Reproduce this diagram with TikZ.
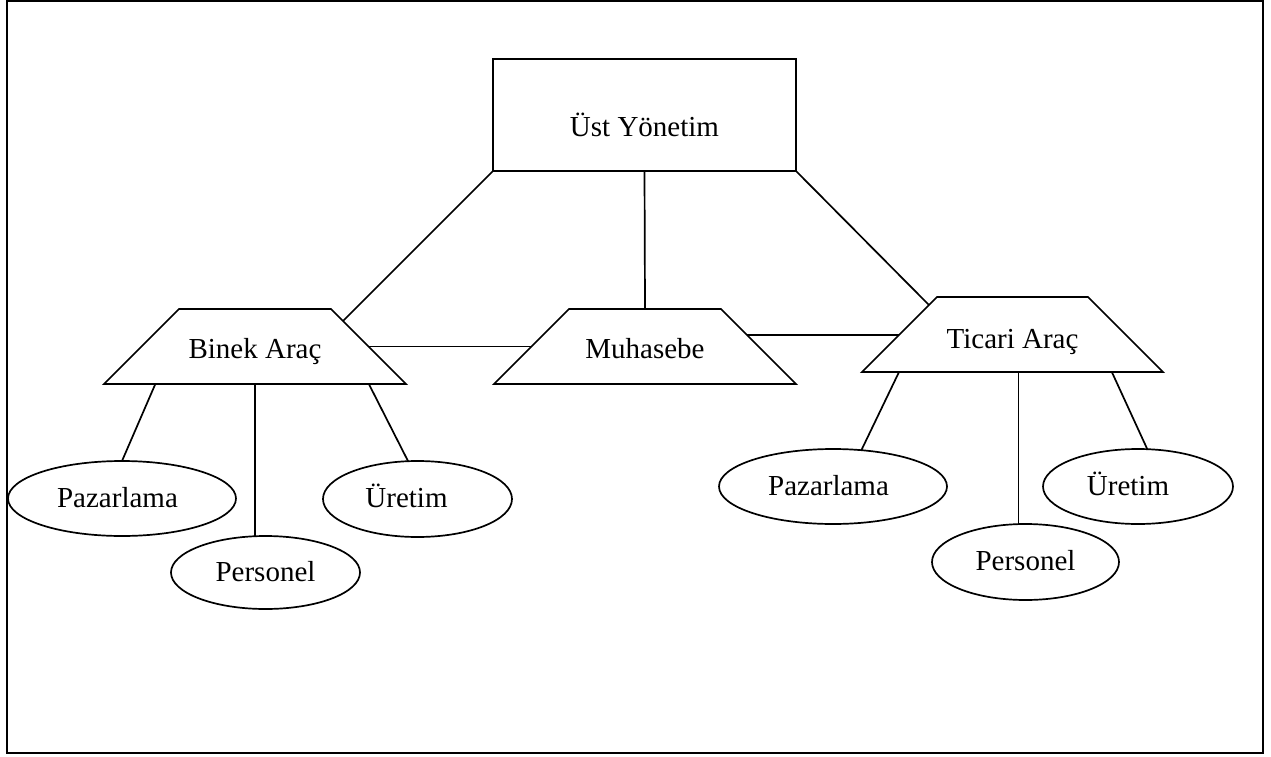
\documentclass[tikz,border=0pt]{standalone}
\usepackage{fontspec}
\setmainfont{Liberation Serif}
\usetikzlibrary{shapes.geometric,calc}
\begin{document}
\begin{tikzpicture}[x=1pt,y=-1pt,
  line width=1.7pt,
  every node/.style={font=\fontsize{29}{34}\selectfont, inner sep=0pt, outer sep=0pt},
  topbox/.style={draw, rectangle, minimum width=303pt, minimum height=112pt,
    text height=42pt, text depth=0pt},
  % body of a division: the top side of its trapezoid, full height
  unit/.style={rectangle, minimum width=152pt, minimum height=75pt,
    text height=27pt, text depth=3pt},
  dept/.style={draw, ellipse, minimum height=75pt, text height=19pt, text depth=2pt},
  frame/.style={line width=2pt}
]
\useasboundingbox (0,0) rectangle (1271,757);
\draw[frame] (7,1) rectangle (1263,753);

% top management
\node[topbox] (top) at (644.5,115) {Üst Yönetim};

% divisions
\node[unit] (bin) at (255,346.5) {Binek Araç};
\node[unit] (muh) at (645,346.5) {Muhasebe};
\node[unit, minimum width=151pt, text height=31pt] (tic) at (1012.5,334.5) {Ticari Araç};

% trapezoid outline of each division, sides at 45 degrees
\foreach \n in {bin,muh,tic}{
  \coordinate (\n-bl) at ([xshift=-75pt]\n.south west);
  \coordinate (\n-br) at ([xshift=75pt]\n.south east);
  \draw[line join=miter] (\n.north west) -- (\n.north east) -- (\n-br) -- (\n-bl) -- cycle;
}

% departments of Binek Araç (labels sit a little left of centre)
\node[dept, minimum width=228pt] (pz1) at (122,498.5) {Pazarlama\hspace*{9pt}};
\node[dept, minimum width=189pt, minimum height=73pt] (ps1) at (265.5,572.5) {Personel};
\node[dept, minimum width=189pt, minimum height=76pt] (ur1) at (417.5,499) {Üretim\hspace*{22pt}};

% departments of Ticari Araç
\node[dept, minimum width=228pt] (pz2) at (833,486.5) {Pazarlama\hspace*{9pt}};
\node[dept, minimum width=187pt, minimum height=76pt] (ps2) at (1025.5,562) {Personel};
\node[dept, minimum width=190pt] (ur2) at (1138,486.5) {Üretim\hspace*{20pt}};

% links from the top box
\draw (top.south west) -- ($(bin.north east)!0.16!(bin-br)$);
\draw (top.south) -- (muh.north);
\draw (top.south east) -- ($(tic.north west)!0.107!(tic-bl)$);

% links between the divisions
\draw ($(bin.north east)!0.5!(bin-br)$) -- ($(muh.north west)!0.5!(muh-bl)$);
\draw ($(muh.north east)!0.347!(muh-br)$) -- ($(tic.north west)!0.507!(tic-bl)$);

% Binek Araç to its departments
\draw ($(bin-bl)!0.17!(bin-br)$) -- (pz1.north);
\draw (bin.south) -- (bin.south |- ps1.north);
\draw ($(bin-bl)!0.877!(bin-br)$) -- (ur1.104);

% Ticari Araç to its departments
\coordinate (ticm) at ($(tic-bl)!0.52!(tic-br)$);
\draw ($(tic-bl)!0.123!(tic-br)$) -- (pz2.52);
\draw (ticm) -- (ticm |- ps2.north);
\draw ($(tic-bl)!0.83!(tic-br)$) -- (ur2.76);
\end{tikzpicture}
\end{document}
